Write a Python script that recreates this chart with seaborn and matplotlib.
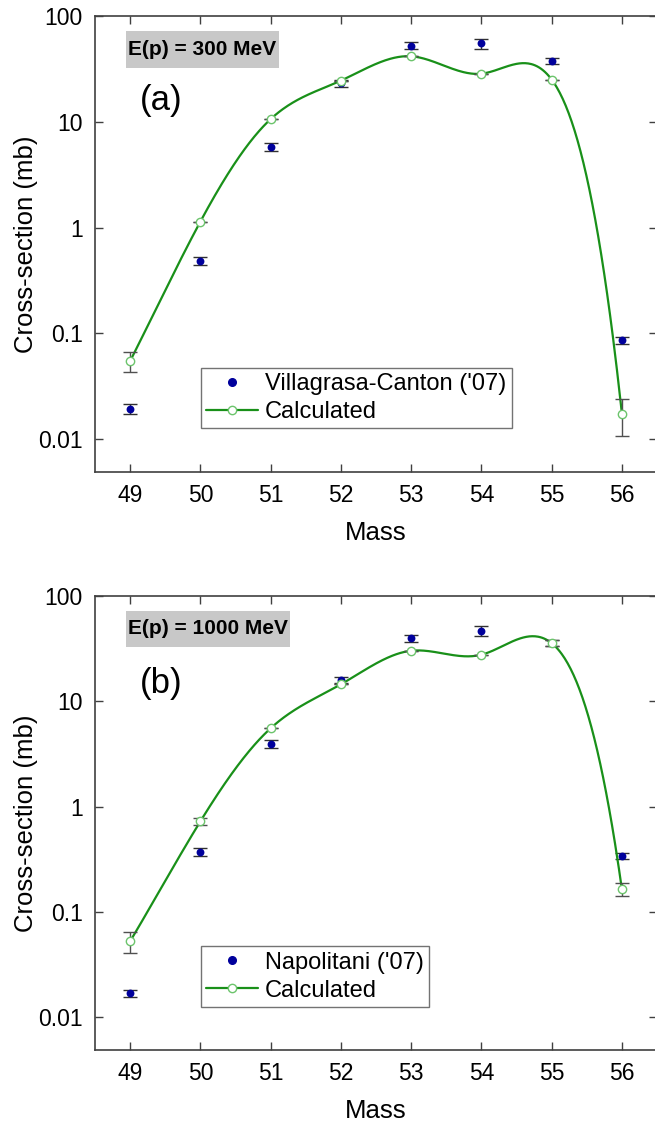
import numpy as np
import seaborn as sns
import matplotlib.pyplot as plt
from matplotlib.lines import Line2D
from matplotlib.patches import Rectangle

sns.set_style("ticks")
plt.rcParams['font.family'] = ['Liberation Sans', 'DejaVu Sans']
plt.rcParams['text.color'] = 'black'
plt.rcParams['axes.labelcolor'] = 'black'
plt.rcParams['xtick.color'] = 'black'
plt.rcParams['ytick.color'] = 'black'

mass = [49, 50, 51, 52, 53, 54, 55, 56]

# panel (a): E(p) = 300 MeV
exp_a = [0.0195, 0.487, 5.8, 23.3, 52.6, 55.0, 37.7, 0.0865]
exp_a_err = [0.0022, 0.045, 0.45, 1.8, 4.0, 6.0, 2.8, 0.007]
calc_a = [0.0547, 1.14, 10.6, 24.5, 41.6, 28.5, 25.1, 0.0175]
calc_a_lo = [0.0428, 1.14, 10.6, 24.5, 41.6, 28.5, 25.1, 0.0107]
calc_a_hi = [0.0665, 1.14, 10.6, 24.5, 41.6, 28.5, 25.1, 0.0239]

# panel (b): E(p) = 1000 MeV
exp_b = [0.0169, 0.372, 3.97, 16.0, 39.8, 47.0, 36.0, 0.338]
exp_b_err = [0.0012, 0.035, 0.35, 1.2, 3.2, 5.0, 2.5, 0.022]
calc_b = [0.0527, 0.726, 5.55, 14.5, 30.2, 27.7, 35.7, 0.165]
calc_b_lo = [0.0411, 0.67, 5.55, 14.5, 30.2, 27.7, 33.5, 0.142]
calc_b_hi = [0.0641, 0.775, 5.55, 14.5, 30.2, 27.7, 38.0, 0.187]

panels = [
    dict(exp=exp_a, exp_err=exp_a_err, calc=calc_a, lo=calc_a_lo, hi=calc_a_hi,
         exp_label="Villagrasa-Canton ('07)", energy="E(p) = 300 MeV", tag="(a)",
         ebox=(0.0552, 0.886, 0.272, 0.081), tag_y=0.8136),
    dict(exp=exp_b, exp_err=exp_b_err, calc=calc_b, lo=calc_b_lo, hi=calc_b_hi,
         exp_label="Napolitani ('07)", energy="E(p) = 1000 MeV", tag="(b)",
         ebox=(0.0552, 0.888, 0.292, 0.079), tag_y=0.808),
]


def smooth_line(x, y, n=500):
    # not-a-knot cubic spline through log10(y), only for the drawn connecting line
    x = np.asarray(x, float)
    y = np.log10(np.asarray(y, float))
    k = len(x)
    h = np.diff(x)
    A = np.zeros((k, k))
    r = np.zeros(k)
    A[0, :3] = [-h[1], h[0] + h[1], -h[0]]
    A[-1, -3:] = [-h[-1], h[-2] + h[-1], -h[-2]]
    for i in range(1, k - 1):
        A[i, i - 1] = h[i - 1]
        A[i, i] = 2 * (h[i - 1] + h[i])
        A[i, i + 1] = h[i]
        r[i] = 3 * ((y[i + 1] - y[i]) / h[i] - (y[i] - y[i - 1]) / h[i - 1])
    c = np.linalg.solve(A, r)
    xs = np.linspace(x[0], x[-1], n)
    idx = np.clip(np.searchsorted(x, xs) - 1, 0, k - 2)
    dx = xs - x[idx]
    b = (y[1:] - y[:-1]) / h - h * (2 * c[:-1] + c[1:]) / 3
    d = (c[1:] - c[:-1]) / (3 * h)
    ys = y[idx] + b[idx] * dx + c[idx] * dx ** 2 + d[idx] * dx ** 3
    return xs, 10 ** ys


W, H = 655, 1123
fig = plt.figure(figsize=(W / 100, H / 100), dpi=100)
boxes = [(95, 16, 472), (95, 596, 1050)]

line_col = '#199019'
mark_edge = '#6cc46c'
exp_col = '#00009c'

for p, (left, top, bottom) in zip(panels, boxes):
    ax = fig.add_axes([left / W, 1 - bottom / H, (657 - left) / W, (bottom - top) / H])

    # experimental points underneath
    ax.errorbar(mass, p['exp'], yerr=p['exp_err'], fmt='none', ecolor='#303030',
                elinewidth=1.0, capsize=5, capthick=1.0, zorder=2)
    sns.scatterplot(x=mass, y=p['exp'], ax=ax, color=exp_col, s=32,
                    edgecolor=exp_col, linewidth=0, zorder=3)

    xs, ys = smooth_line(mass, p['calc'])
    sns.lineplot(x=xs, y=ys, ax=ax, color=line_col, lw=1.6, zorder=4)

    calc = np.array(p['calc'])
    yerr_c = [calc - np.array(p['lo']), np.array(p['hi']) - calc]
    ax.errorbar(mass, calc, yerr=yerr_c, fmt='none', ecolor='#505050',
                elinewidth=1.0, capsize=5, capthick=1.0, zorder=5)
    ax.plot(mass, calc, 'o', ms=6, mfc='white', mec=mark_edge, mew=1.0, zorder=6)

    ax.set_yscale('log')
    ax.set_ylim(0.0049, 100)
    ax.set_xlim(48.5, 56.5)
    ax.set_xticks(mass)
    ax.set_yticks([0.01, 0.1, 1, 10, 100])
    ax.set_yticklabels(['0.01', '0.1', '1', '10', '100'])
    ax.minorticks_off()
    ax.tick_params(direction='in', length=6, width=1, color='#404040',
                   top=True, right=True, labelsize=16.5, pad=9)
    for s in ax.spines.values():
        s.set_color('#404040')
        s.set_linewidth(1.2)
    ax.set_xlabel('Mass', fontsize=18.5, labelpad=10)
    ax.set_ylabel('Cross-section (mb)', fontsize=18.5, labelpad=0)

    bx, by, bw, bh = p['ebox']
    ax.add_patch(Rectangle((bx, by), bw, bh, transform=ax.transAxes,
                           fc='#c8c8c8', ec='none', zorder=1))
    ax.text(bx + bw / 2, by + bh / 2, p['energy'], transform=ax.transAxes,
            fontsize=15, fontweight='bold', ha='center', va='center', zorder=2)
    ax.text(0.080, p['tag_y'], p['tag'], transform=ax.transAxes, fontsize=25,
            ha='left', va='center')

    handles = [
        Line2D([], [], ls='none', marker='o', ms=5.5, color=exp_col),
        Line2D([], [], color=line_col, lw=1.6, marker='o', ms=6,
               mfc='white', mec=mark_edge),
    ]
    leg = ax.legend(handles, [p['exp_label'], 'Calculated'], loc='upper left',
                    bbox_to_anchor=(0.1886, 0.228), fontsize=17, frameon=True,
                    fancybox=False, edgecolor='#505050', borderaxespad=0,
                    borderpad=0.22, labelspacing=0.25, handlelength=2.2,
                    handletextpad=0.3)
    leg.get_frame().set_linewidth(1.0)

fig.savefig('out.png', dpi=100)
